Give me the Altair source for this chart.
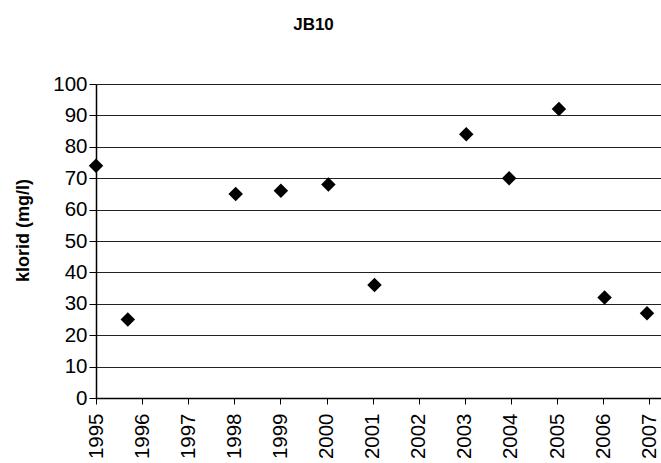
import altair as alt
import pandas as pd

# decimal years of the samples and chloride values (mg/l)
years = [1995.0, 1995.69, 1998.03, 1999.01, 2000.04, 2001.04, 2003.03, 2003.96, 2005.04, 2006.03, 2006.95]
values = [74, 25, 65, 66, 68, 36, 84, 70, 92, 32, 27]
tick_years = list(range(1995, 2008))
y_ticks = list(range(0, 101, 10))

df = pd.DataFrame({"year": years, "klorid": values})

FONT = "Liberation Sans"

chart = alt.Chart(df).mark_point(
    shape="diamond", filled=True, color="black", size=210, opacity=1
).encode(
    x=alt.X("year:Q",
            scale=alt.Scale(domain=[1995, 2007.254], nice=False, zero=False),
            axis=alt.Axis(values=tick_years, format="d", labelAngle=270,
                          labelAlign="right", labelBaseline="middle",
                          labelPadding=9, tickSize=6, tickColor="black",
                          domainColor="black", domainWidth=1.5,
                          labelFontSize=20.5, labelColor="black", grid=False,
                          title=None, labelFont=FONT, labelOverlap=False)),
    y=alt.Y("klorid:Q",
            scale=alt.Scale(domain=[0, 100], nice=False),
            axis=alt.Axis(values=y_ticks, title="klorid (mg/l)",
                          titleFont=FONT, titleFontSize=18, titleFontWeight="bold",
                          titleColor="black", titleAngle=270, titleX=-73, titleY=146,
                          titleAlign="center", titleBaseline="middle",
                          labelFontSize=20.5, labelColor="black", labelFont=FONT,
                          labelPadding=2, tickSize=7, tickColor="black",
                          domainColor="black", domainWidth=1.5,
                          gridColor="#222222", gridWidth=1, gridOpacity=1)),
).properties(
    width=565,
    height=314,
    title=alt.TitleParams("JB10", font=FONT, fontSize=17, fontWeight="bold",
                          color="black", anchor="middle", dx=-65,
                          baseline="alphabetic", offset=27),
    autosize=alt.AutoSizeParams(type="none"),
    padding={"left": 96, "top": 84, "right": 0, "bottom": 65},
).configure_view(stroke=None).configure(background="white")

chart.save("out.html", embed_options={"renderer": "svg", "actions": False})
